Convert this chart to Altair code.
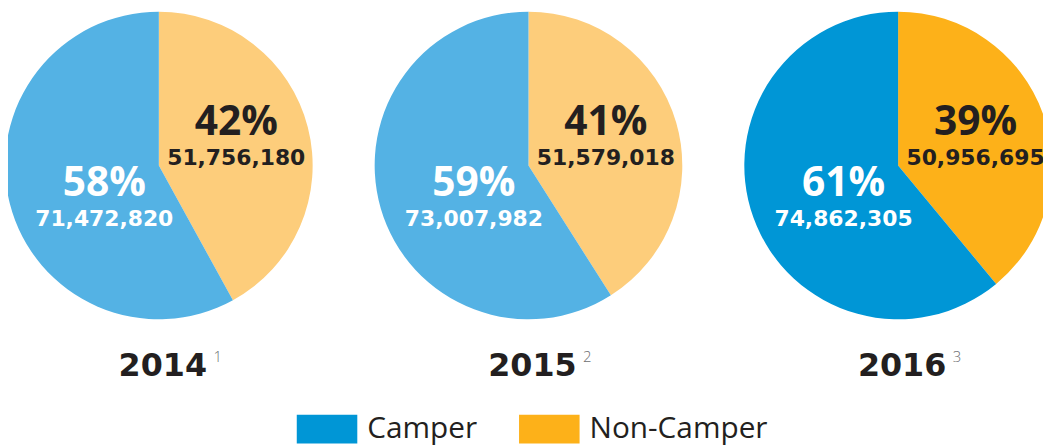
import altair as alt
import pandas as pd

years = [2014, 2015, 2016]
year_labels = ["2014", "2015", "2016"]
year_notes = ["1", "2", "3"]
categories = ["Camper", "Non-Camper"]
camper_counts = [71472820, 73007982, 74862305]
noncamper_counts = [51756180, 51579018, 50956695]
camper_share = [58, 59, 61]
noncamper_share = [42, 41, 39]
shade_keys = ["Camper", "Non-Camper", "Camper (2014–2015)", "Non-Camper (2014–2015)"]
shade_colors = ["#0096d6", "#fdb119", "#54b2e4", "#fdcd7b"]

rows = []
for i, y in enumerate(years):
    suffix = "" if y == 2016 else " (2014–2015)"
    rows.append({"year": y, "category": "Non-Camper", "shade": "Non-Camper" + suffix,
                 "start": 0, "end": noncamper_share[i], "count": noncamper_counts[i],
                 "pct": f"{noncamper_share[i]}%"})
    rows.append({"year": y, "category": "Camper", "shade": "Camper" + suffix,
                 "start": noncamper_share[i], "end": noncamper_share[i] + camper_share[i],
                 "count": camper_counts[i], "pct": f"{camper_share[i]}%"})
df = pd.DataFrame(rows)
ydf = pd.DataFrame({"year": years, "label": year_labels, "note": year_notes})

xenc = alt.X("year:O", scale=alt.Scale(type="point", domain=years, range=[152, 897], padding=0),
             axis=None)
theta = alt.Theta("start:Q", scale=alt.Scale(domain=[0, 100], range=[0, 6.283185307]), stack=None)

base = alt.Chart(df)

arcs = base.mark_arc(outerRadius=155).encode(
    x=xenc, y=alt.value(157), theta=theta, theta2="end:Q",
    color=alt.Color("shade:N", scale=alt.Scale(domain=shade_keys, range=shade_colors),
                    legend=alt.Legend(title=None, orient="none", legendX=291, legendY=392,
                                      values=categories, direction="horizontal",
                                      symbolType="M-1,-0.475H1V0.475H-1Z", symbolSize=3721,
                                      symbolStrokeWidth=0, symbolOpacity=1,
                                      labelFont="Open Sans", labelFontSize=30,
                                      labelColor="#231f20", labelOffset=10,
                                      columnPadding=42, labelLimit=0)),
)

cam = base.transform_filter("datum.category == 'Camper'")
non = base.transform_filter("datum.category == 'Non-Camper'")

def pct_layer(src, color, dx, dy):
    return src.mark_text(font="Open Sans", fontWeight="bold", fontSize=41, color=color,
                         align="center", baseline="alphabetic", dx=dx, dy=dy).encode(
        x=xenc, y=alt.value(157), text="pct:N")

def num_layer(src, color, dx, dy):
    return src.mark_text(font="DejaVu Sans", fontWeight="bold", fontSize=22, color=color,
                         align="center", baseline="alphabetic", dx=dx, dy=dy).encode(
        x=xenc, y=alt.value(157), text=alt.Text("count:Q", format=","))

texts = [
    pct_layer(cam, "white", -55, 31),
    num_layer(cam, "white", -55, 61),
    pct_layer(non, "#231f20", 78, -31),
    num_layer(non, "#231f20", 78, 0),
]

yr = alt.Chart(ydf).mark_text(font="DejaVu Sans", fontWeight="bold", fontSize=32, color="#231f20",
                              align="center", baseline="alphabetic", dx=4).encode(
    x=xenc, y=alt.value(369), text="label:N")
sup = alt.Chart(ydf).mark_text(font="Open Sans", fontWeight=300, fontSize=15, color="#6d6e71",
                               align="left", baseline="alphabetic", dx=55).encode(
    x=xenc, y=alt.value(355), text="note:N")

chart = (alt.layer(arcs, *texts, yr, sup)
         .properties(width=1043, height=440, autosize=alt.AutoSizeParams(type="none"), padding=0)
         .configure_view(stroke=None))

chart.save("out.html", embed_options={"renderer": "svg", "actions": False})
